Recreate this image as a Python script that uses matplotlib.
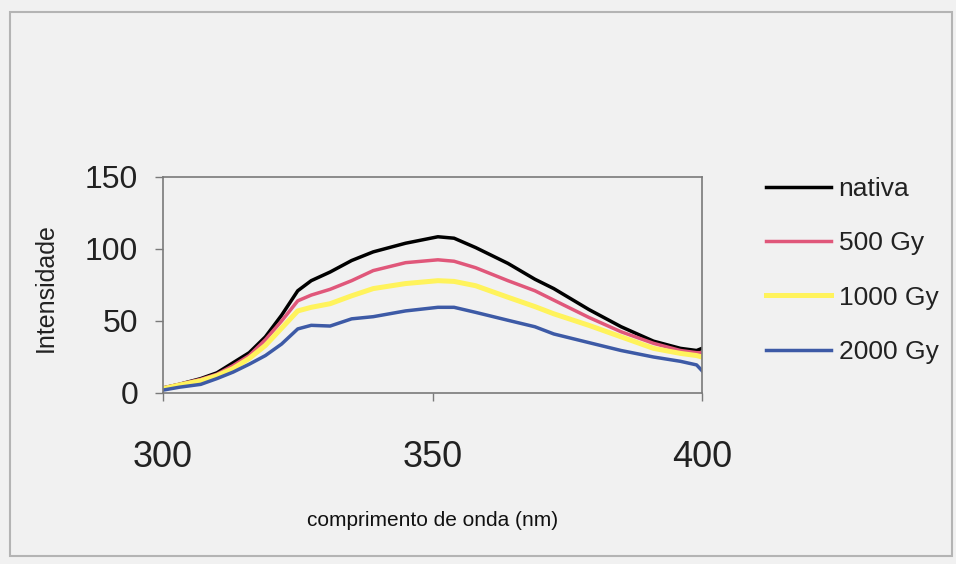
import matplotlib.pyplot as plt
from matplotlib.patches import Rectangle

plt.rcParams['font.family'] = ['Liberation Sans', 'DejaVu Sans']

# emission spectra (wavelength in nm)
wavelength = [300, 303, 307, 310, 313, 316, 319, 322, 325, 327.5, 331, 335, 339,
              345, 351, 354, 358, 364, 369, 372.5, 379, 385, 391, 396, 399, 400]
nativa = [3.5, 6, 10, 14, 21, 28, 39, 54, 71, 78, 84, 92, 98,
          104, 108.5, 107.5, 101, 90, 79, 72.5, 58, 46, 36, 31, 29.5, 31]
gy_500 = [3.5, 6, 9.5, 13, 19, 26, 37, 50, 64, 68, 72, 78, 85,
          90.5, 92.5, 91.5, 87, 78, 71, 64.5, 52.5, 42.5, 34.5, 29.5, 28, 28]
gy_1000 = [3, 5.5, 8.5, 12, 17, 24, 33, 45, 57, 59.5, 62, 67.5, 72.5,
           76, 78, 77.5, 74.5, 66.5, 60, 55, 47, 39, 31, 27.5, 26, 25]
gy_2000 = [2, 4, 6, 10, 14.5, 20, 26, 34, 44.5, 47, 46.5, 51.5, 53,
           57, 59.5, 59.5, 56, 50.5, 46, 41, 35, 29.5, 25, 22, 19.5, 15.5]

labels = ["nativa", "500 Gy", "1000 Gy", "2000 Gy"]
colors = ["#000000", "#e0577a", "#fff35c", "#3d5aa6"]

bg = "#f1f1f1"
fig = plt.figure(figsize=(9.56, 5.64), dpi=100, facecolor=bg)
ax = fig.add_axes([163 / 956, 1 - 393 / 564, 539 / 956, 216 / 564], facecolor=bg)

for y, lab, c in zip([nativa, gy_500, gy_1000, gy_2000], labels, colors):
    lw = 3.6 if c == "#fff35c" else 2.5
    ax.plot(wavelength, y, color=c, lw=lw, label=lab)

ax.set_xlim(300, 400)
ax.set_ylim(0, 150)
ax.set_xticks([300, 350, 400])
ax.set_yticks([0, 50, 100, 150])
for s in ax.spines.values():
    s.set_color("#7a7a7a")
    s.set_linewidth(1.2)
ax.tick_params(axis="y", direction="out", length=6, width=1, color="#7a7a7a",
               labelsize=23, pad=12, labelcolor="#222222")
ax.tick_params(axis="x", direction="out", length=6, width=1, color="#7a7a7a",
               labelsize=26, pad=28, labelcolor="#222222")

ax.set_xlabel("comprimento de onda (nm)", fontsize=15, color="#111111")
ax.xaxis.set_label_coords(0.5, -0.545)
ax.set_ylabel("Intensidade", fontsize=18, color="#222222")
ax.yaxis.set_label_coords(-0.195, 0.49)

fig.legend(loc="upper left", bbox_to_anchor=(766 / 956, 1 - 177 / 564),
           frameon=False, fontsize=19, handlelength=2.45, handletextpad=0.3,
           labelspacing=1.15, borderpad=0, borderaxespad=0, labelcolor="#222222")

# outer chart border
fig.patches.append(Rectangle((10 / 956, 8 / 564), 942 / 956, 544 / 564,
                             transform=fig.transFigure, fill=False,
                             edgecolor="#b4b4b4", lw=1.5))

fig.savefig("out.png", dpi=100, facecolor=bg)
